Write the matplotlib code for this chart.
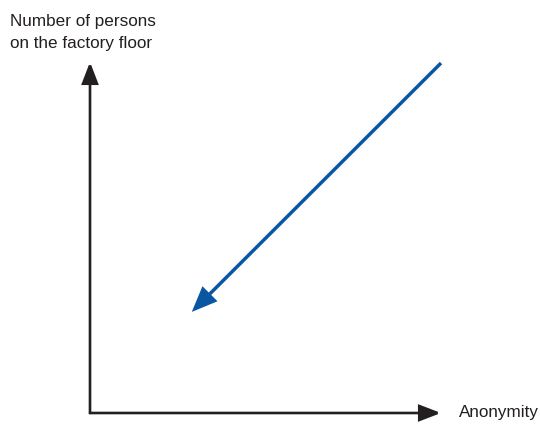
import matplotlib
matplotlib.use("Agg")
import matplotlib.pyplot as plt
from matplotlib.patches import FancyArrowPatch

plt.rcParams['font.family'] = ['Liberation Sans', 'DejaVu Sans']

# Conceptual data (axis units 0..1)
y_label_lines = ["Number of persons", "on the factory floor"]
x_label = "Anonymity"
trend_start = (1.0, 0.997)
trend_end = (0.29, 0.288)

W, H = 540, 425
fig = plt.figure(figsize=(W / 100, H / 100), dpi=100)
ox, oy = 90, 413
tip_x, tip_y = 441, 62
ax = fig.add_axes([ox / W, (H - oy) / H, (tip_x - ox) / W, (oy - tip_y) / H])
ax.set_xlim(0, 1)
ax.set_ylim(0, 1)
ax.axis('off')

axis_color = '#231f20'
blue = '#0a56a0'

def arrow(p0, p1, color, lw, hl, hw):
    a = FancyArrowPatch(p0, p1, arrowstyle=f'-|>,head_length={hl},head_width={hw}',
                        mutation_scale=1, color=color, lw=lw, shrinkA=0, shrinkB=0,
                        joinstyle='miter', capstyle='butt', clip_on=False,
                        transform=ax.transData)
    ax.add_patch(a)

arrow((0, -0.003), (0, 1.0), axis_color, 1.9, 13, 5)
arrow((-0.003, 0), (1.0, 0), axis_color, 1.9, 13, 5)
arrow(trend_start, trend_end, blue, 2.5, 14, 5.8)

fig.text(10 / W, 1 - 14 / H, "\n".join(y_label_lines), ha='left', va='top',
         fontsize=12.3, color='#231f20', linespacing=1.6)
fig.text(459 / W, 1 - 413 / H, x_label, ha='left', va='center',
         fontsize=12.3, color='#231f20')

fig.savefig('out.png', dpi=100, facecolor='white')
